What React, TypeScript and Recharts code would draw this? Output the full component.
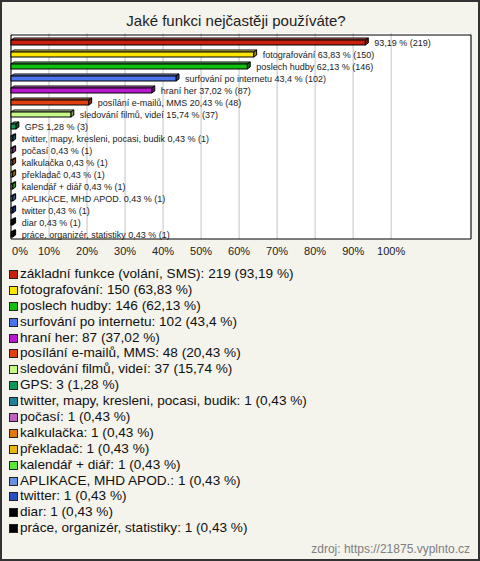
import React from "react"
import { BarChart, Bar, XAxis, YAxis, CartesianGrid, Cell, LabelList, ReferenceArea } from "recharts"

const categories = [
  "základní funkce (volání, SMS)",
  "fotografování",
  "poslech hudby",
  "surfování po internetu",
  "hraní her",
  "posílání e-mailů, MMS",
  "sledování filmů, videí",
  "GPS",
  "twitter, mapy, kresleni, pocasi, budik",
  "počasí",
  "kalkulačka",
  "překladač",
  "kalendář + diář",
  "APLIKACE, MHD APOD.",
  "twitter",
  "diar",
  "práce, organizér, statistiky",
]

const counts = [219, 150, 146, 102, 87, 48, 37, 3, 1, 1, 1, 1, 1, 1, 1, 1, 1]

const percents = [93.19, 63.83, 62.13, 43.4, 37.02, 20.43, 15.74, 1.28, 0.43, 0.43, 0.43, 0.43, 0.43, 0.43, 0.43, 0.43, 0.43]

const colors = [
  "#c8200c", "#ffe600", "#10c010", "#4c74ec", "#b818d0", "#e04010", "#c8f888", "#109858",
  "#208098", "#c060c0", "#e07810", "#e8b810", "#58e838", "#6890e0", "#2850c0", "#000000", "#000000",
]

const xTicks = [0, 10, 20, 30, 40, 50, 60, 70, 80, 90, 100]

const FONT = "'Liberation Sans', Arial, sans-serif"

const fmt = (v: number) => String(v).replace(".", ",")

const data = categories.map((name, i) => ({ name, pct: percents[i], count: counts[i] }))

function shade(hex: string, k: number) {
  const n = parseInt(hex.slice(1), 16)
  const ch = [(n >> 16) & 255, (n >> 8) & 255, n & 255].map((c) =>
    Math.max(0, Math.min(255, Math.round(k > 1 ? c + (255 - c) * (k - 1) : c * k)))
  )
  return `rgb(${ch[0]},${ch[1]},${ch[2]})`
}

// bar with a small 3d top and right face
function Bar3D(props: any) {
  const { x, y, width, height, fill } = props
  const dx = 3
  const dy = 2
  const fy = y + dy
  const fh = height - dy
  return (
    <g stroke="#000" strokeWidth={1}>
      <polygon points={`${x},${fy} ${x + dx},${y} ${x + width + dx},${y} ${x + width},${fy}`} fill={shade(fill, 1.35)} />
      <polygon
        points={`${x + width},${fy} ${x + width + dx},${y} ${x + width + dx},${y + fh} ${x + width},${y + height}`}
        fill={shade(fill, 0.6)}
      />
      <rect x={x} y={fy} width={width} height={fh} fill={fill} />
    </g>
  )
}

function BarLabel(props: any) {
  const { x, y, width, height, index } = props
  const label = `${index === 0 ? "" : categories[index] + " "}${fmt(percents[index])} % (${counts[index]})`
  return (
    <text x={x + width + 9} y={y + height / 2 + 1} dominantBaseline="central" fontSize={9} fill="#222" fontFamily={FONT}>
      {label}
    </text>
  )
}

function Tick(props: any) {
  const { x, y, payload } = props
  const first = payload.value === 0
  return (
    <text x={first ? x + 1 : x} y={y} dy="0.71em" textAnchor={first ? "start" : "middle"} fontSize={11} fill="#222" fontFamily={FONT}>
      {payload.value}%
    </text>
  )
}

export default function App() {
  return (
    <div style={{ position: "absolute", left: 0, top: 0, width: 480, height: 561, background: "#f4f3ec", fontFamily: FONT }}>
      <div
        style={{ position: "absolute", left: 0, top: 12, width: 472, textAlign: "center", fontSize: 15, lineHeight: "17px", color: "#222" }}
      >
        Jaké funkci nejčastěji používáte?
      </div>
      <div style={{ position: "absolute", left: 0, top: 0 }}>
        <BarChart width={480} height={561} data={data} layout="vertical" margin={{ top: 33, right: 9, left: 11, bottom: 302 }}>
          <CartesianGrid horizontal={false} stroke="#c4c4c4" fill="#ffffff" />
          <XAxis
            type="number"
            domain={[0, 121]}
            ticks={xTicks}
            axisLine={false}
            tickLine={false}
            height={20}
            tick={<Tick />}
            interval={0}
          />
          <YAxis type="category" dataKey="name" hide padding={{ top: 2, bottom: 0 }} />
          <ReferenceArea x1={0} x2={121} fill="none" fillOpacity={0} stroke="#000" strokeWidth={1} ifOverflow="visible" />
          <Bar dataKey="pct" barSize={7} isAnimationActive={false} shape={<Bar3D />}>
            {data.map((_, i) => (
              <Cell key={i} fill={colors[i]} />
            ))}
            <LabelList dataKey="pct" content={<BarLabel />} />
          </Bar>
        </BarChart>
      </div>
      <div style={{ position: "absolute", left: 0, top: 266 }}>
        {categories.map((c, i) => (
          <div key={c} style={{ position: "relative", height: 15.9, lineHeight: "16px", fontSize: 13.6, color: "#111", whiteSpace: "nowrap" }}>
            <span
              style={{
                position: "absolute",
                left: 9,
                top: 4,
                width: 9,
                height: 9,
                boxSizing: "border-box",
                border: "1px solid #222",
                background: colors[i],
              }}
            />
            <span style={{ position: "absolute", left: 20, top: 0 }}>
              {c}: {counts[i]} ({fmt(percents[i])} %)
            </span>
          </div>
        ))}
      </div>
      <div style={{ position: "absolute", right: 10, top: 542, fontSize: 12, lineHeight: "14px", color: "#808080" }}>
        zdroj: https://21875.vyplnto.cz
      </div>
      <div style={{ position: "absolute", left: 0, top: 0, width: 480, height: 561, boxSizing: "border-box", border: "2px solid #333", pointerEvents: "none" }} />
    </div>
  )
}
